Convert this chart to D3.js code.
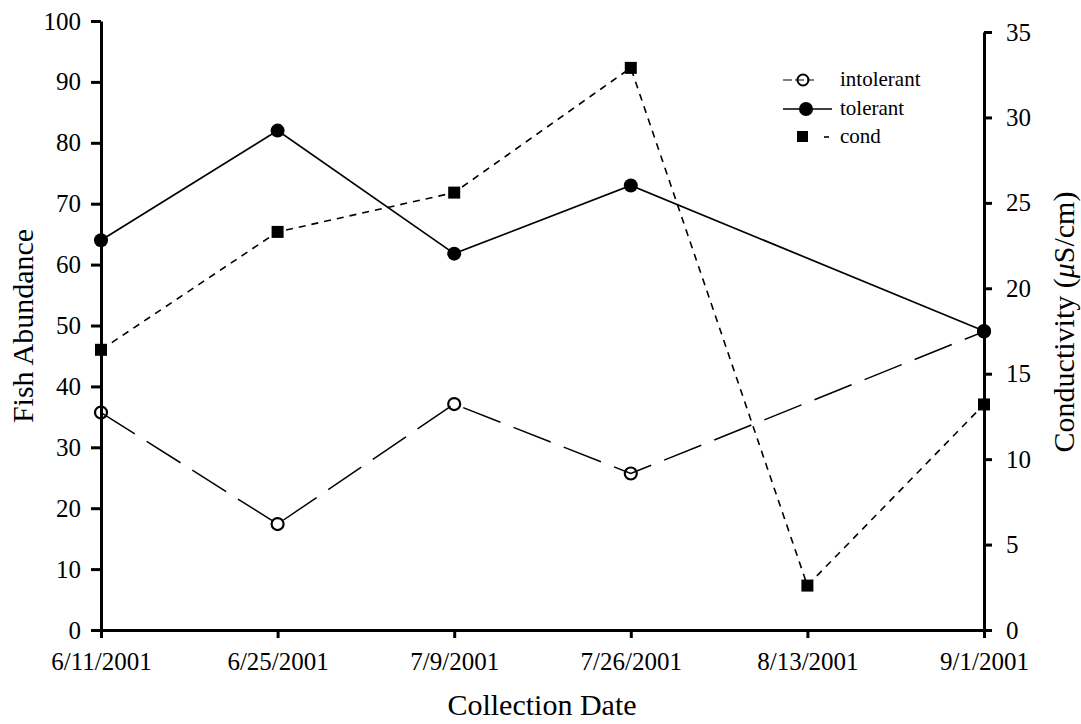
<!DOCTYPE html>
<html>
<head>
<meta charset="utf-8">
<script src="https://cdn.jsdelivr.net/npm/d3@7"></script>
<style>
  body { margin: 0; background: #fff; }
  svg { font-family: "Liberation Serif", "Times New Roman", serif; }
</style>
</head>
<body>
<svg id="chart"></svg>
<script>
// collection dates (evenly spaced categories)
let dates = ["6/11/2001", "6/25/2001", "7/9/2001", "7/26/2001", "8/13/2001", "9/1/2001"]
// fish abundance, left axis (null = no sample)
let intolerant = [35.7, 17.4, 37.1, 25.7, null, 49]
let tolerant = [64, 82, 61.8, 73, null, 49.1]
// conductivity, right axis
let cond = [16.4, 23.3, 25.6, 32.9, 2.6, 13.2]

let leftTicks = [0, 10, 20, 30, 40, 50, 60, 70, 80, 90, 100]
let rightTicks = [0, 5, 10, 15, 20, 25, 30, 35]

let svg = d3.select("#chart").attr("width", 1081).attr("height", 724)

// scales
let x = d3.scalePoint().domain(dates).range([101, 984]).padding(0)
let yL = d3.scaleLinear().domain([0, 100]).range([630, 21])
let yR = d3.scaleLinear().domain([0, 35]).range([630, 32])

// axes
function styleAxis(g) {
    g.select(".domain").attr("stroke-width", 3)
    g.selectAll(".tick line").attr("stroke-width", 3)
    g.selectAll("text").attr("font-size", 25).attr("font-family", "Liberation Serif").attr("fill", "#000")
}

svg.append("g")
    .attr("transform", "translate(0,630)")
    .call(d3.axisBottom(x).tickSize(8).tickSizeOuter(0).tickPadding(14))
    .call(styleAxis)

svg.append("g")
    .attr("transform", "translate(101,0)")
    .call(d3.axisLeft(yL).tickValues(leftTicks).tickSize(10).tickSizeOuter(0).tickPadding(10))
    .call(styleAxis)

svg.append("g")
    .attr("transform", "translate(984,0)")
    .call(d3.axisRight(yR).tickValues(rightTicks).tickSize(8).tickSizeOuter(0).tickPadding(14))
    .call(styleAxis)

// axis titles
svg.append("text").attr("transform", "translate(33,326) rotate(-90)")
    .attr("text-anchor", "middle").attr("font-size", 30).text("Fish Abundance")
svg.append("text").attr("x", 542).attr("y", 715)
    .attr("text-anchor", "middle").attr("font-size", 30).text("Collection Date")
let rt = svg.append("text").attr("transform", "translate(1074,322) rotate(-90)")
    .attr("text-anchor", "middle").attr("font-size", 30)
rt.append("tspan").text("Conductivity (")
rt.append("tspan").attr("font-style", "italic").text("\u03bc")
rt.append("tspan").text("S/cm)")

// lines
function series(vals) {
    return dates.map((d, i) => ({date: d, v: vals[i]})).filter(d => d.v != null)
}

let intData = series(intolerant), tolData = series(tolerant), condData = series(cond)

svg.append("path").datum(intData)
    .attr("fill", "none").attr("stroke", "#000").attr("stroke-width", 1.5)
    .attr("stroke-dasharray", "40,14")
    .attr("d", d3.line().x(d => x(d.date)).y(d => yL(d.v)))

svg.append("path").datum(tolData)
    .attr("fill", "none").attr("stroke", "#000").attr("stroke-width", 1.7)
    .attr("d", d3.line().x(d => x(d.date)).y(d => yL(d.v)))

svg.append("path").datum(condData)
    .attr("fill", "none").attr("stroke", "#000").attr("stroke-width", 1.6)
    .attr("stroke-dasharray", "7,6")
    .attr("d", d3.line().x(d => x(d.date)).y(d => yR(d.v)))

// markers
svg.selectAll(".intpt").data(intData).enter().append("circle")
    .attr("cx", d => x(d.date)).attr("cy", d => yL(d.v)).attr("r", 6)
    .attr("fill", "none").attr("stroke", "#000").attr("stroke-width", 2.2)

svg.selectAll(".tolpt").data(tolData).enter().append("circle")
    .attr("cx", d => x(d.date)).attr("cy", d => yL(d.v)).attr("r", 7)
    .attr("fill", "#000")

svg.selectAll(".condpt").data(condData).enter().append("rect")
    .attr("x", d => x(d.date) - 6).attr("y", d => yR(d.v) - 6)
    .attr("width", 12).attr("height", 12).attr("fill", "#000")

// legend
let lg = svg.append("g").attr("font-size", 21)
lg.append("line").attr("x1", 783).attr("x2", 814).attr("y1", 80).attr("y2", 80)
    .attr("stroke", "#000").attr("stroke-width", 1.2).attr("stroke-dasharray", "9,3")
lg.append("circle").attr("cx", 803).attr("cy", 80).attr("r", 5.5)
    .attr("fill", "none").attr("stroke", "#000").attr("stroke-width", 2)
lg.append("text").attr("x", 840).attr("y", 86).text("intolerant")

lg.append("line").attr("x1", 783).attr("x2", 832).attr("y1", 109).attr("y2", 109)
    .attr("stroke", "#000").attr("stroke-width", 1.7)
lg.append("circle").attr("cx", 806).attr("cy", 109).attr("r", 7).attr("fill", "#000")
lg.append("text").attr("x", 840).attr("y", 115).text("tolerant")

lg.append("rect").attr("x", 797).attr("y", 131).attr("width", 11).attr("height", 11).attr("fill", "#000")
lg.append("line").attr("x1", 824).attr("x2", 829).attr("y1", 137).attr("y2", 137)
    .attr("stroke", "#000").attr("stroke-width", 1.6)
lg.append("text").attr("x", 840).attr("y", 143).text("cond")
</script>
</body>
</html>
